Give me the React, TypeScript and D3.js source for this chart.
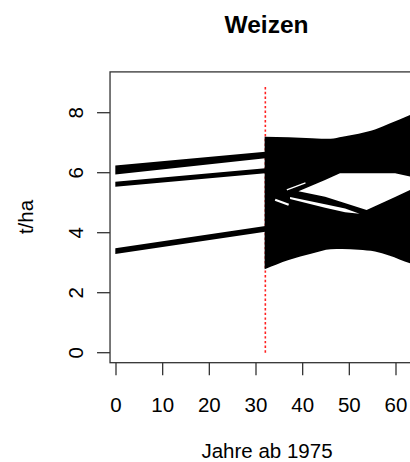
import React from "react";
import * as d3 from "d3";

// ---- data ----
const xTicks = [0, 10, 20, 30, 40, 50, 60];
const yTicks = [0, 2, 4, 6, 8];
const breakYear = 32;

// historical trend bundles (years, upper edge, lower edge)
const histYears = [-0.15, 32];
const hist1Upper = [6.24, 6.7];
const hist1Lower = [5.94, 6.48];
const hist2Upper = [5.7, 6.15];
const hist2Lower = [5.53, 5.98];
const hist3Upper = [3.48, 4.22];
const hist3Lower = [3.29, 4.03];

// simulated trajectories: outer envelope of the fan
const fanYears = [31.85, 37, 42, 46, 48.5, 52, 55.5, 58.5, 63, 66];
const fanUpper = [7.2, 7.18, 7.15, 7.13, 7.2, 7.3, 7.44, 7.63, 7.92, 8.12];
const fanLower = [2.78, 3.09, 3.31, 3.45, 3.46, 3.43, 3.37, 3.24, 2.98, 2.85];

// gap between the trajectory groups (upper lens)
const lensYears = [39.1, 44.8, 48, 53.7, 59.8, 63, 66];
const lensUpper = [5.38, 5.76, 5.98, 5.98, 5.98, 5.87, 5.78];
const lensLower = [5.38, 5.2, 5.04, 4.76, 5.19, 5.42, 5.63];

// narrow gap below (sliver)
const sliverYears = [37.3, 44.8, 49.1, 52.2];
const sliverUpper = [5.19, 4.95, 4.81, 4.63];
const sliverLower = [5.12, 4.83, 4.68, 4.63];

// thin gaps near the start of the fan
const gap1Years = [34.1, 37.0];
const gap1Vals = [5.1, 4.93];
const gap2Years = [36.6, 40.6];
const gap2Vals = [5.43, 5.66];

const FONT = "'Liberation Sans', Arial, Helvetica, sans-serif";

export default function App() {
  const x = d3.scaleLinear().domain([0, 60]).range([116, 396]);
  const y = d3.scaleLinear().domain([0, 8]).range([352.7, 112.7]);

  const boxL = x(-1.28);
  const boxR = 423;
  const boxT = y(9.36);
  const boxB = y(-0.333);

  const band = (years: number[], up: number[], lo: number[], curve: any = d3.curveLinear) =>
    d3
      .area<number>()
      .curve(curve)
      .x((_, i) => x(years[i]))
      .y0((_, i) => y(lo[i]))
      .y1((_, i) => y(up[i]))(years) || "";

  const seg = (years: number[], vals: number[]) =>
    d3
      .line<number>()
      .x((_, i) => x(years[i]))
      .y((_, i) => y(vals[i]))(years) || "";

  return (
    <svg
      width={410}
      height={462}
      style={{ position: "absolute", left: 0, top: 0, background: "#fff" }}
      fontFamily={FONT}
    >
      <defs>
        <clipPath id="plotclip">
          <rect x={boxL} y={boxT} width={boxR - boxL} height={boxB - boxT} />
        </clipPath>
      </defs>
      <rect x={0} y={0} width={410} height={462} fill="#fff" />

      <g clipPath="url(#plotclip)">
        {/* red dotted break line */}
        <line
          x1={x(breakYear)}
          x2={x(breakYear)}
          y1={y(0)}
          y2={y(8.9)}
          stroke="#ff2020"
          strokeWidth={1.6}
          strokeDasharray="2.4 2.3"
        />
        {/* historical */}
        <path d={band(histYears, hist1Upper, hist1Lower)} fill="#000" />
        <path d={band(histYears, hist2Upper, hist2Lower)} fill="#000" />
        <path d={band(histYears, hist3Upper, hist3Lower)} fill="#000" />
        {/* fan */}
        <path d={band(fanYears, fanUpper, fanLower, d3.curveMonotoneX)} fill="#000" />
        <path d={band(lensYears, lensUpper, lensLower)} fill="#fff" />
        <path d={band(sliverYears, sliverUpper, sliverLower)} fill="#fff" />
        <path d={seg(gap1Years, gap1Vals)} stroke="#fff" strokeWidth={2.2} fill="none" />
        <path d={seg(gap2Years, gap2Vals)} stroke="#fff" strokeWidth={1.4} fill="none" />
      </g>

      {/* box */}
      <rect
        x={boxL}
        y={boxT}
        width={boxR - boxL}
        height={boxB - boxT}
        fill="none"
        stroke="#333"
        strokeWidth={1.3}
      />

      {/* x axis */}
      {xTicks.map((t) => (
        <g key={"x" + t}>
          <line x1={x(t)} x2={x(t)} y1={boxB} y2={boxB + 12.5} stroke="#333" strokeWidth={1.3} />
          <text x={x(t)} y={411.5} textAnchor="middle" fontSize={20.5} fill="#000">
            {t}
          </text>
        </g>
      ))}
      {/* y axis */}
      {yTicks.map((t) => (
        <g key={"y" + t}>
          <line x1={boxL} x2={boxL - 13} y1={y(t)} y2={y(t)} stroke="#333" strokeWidth={1.3} />
          <text
            transform={`translate(83,${y(t)}) rotate(-90)`}
            textAnchor="middle"
            fontSize={20.5}
            fill="#000"
          >
            {t}
          </text>
        </g>
      ))}

      <text x={266.5} y={33} textAnchor="middle" fontSize={24.5} fontWeight="bold" fill="#000">
        Weizen
      </text>
      <text x={267} y={458} textAnchor="middle" fontSize={20.5} fill="#000">
        Jahre ab 1975
      </text>
      <text
        transform={`translate(33,217) rotate(-90)`}
        textAnchor="middle"
        fontSize={20.5}
        fill="#000"
      >
        t/ha
      </text>
    </svg>
  );
}
